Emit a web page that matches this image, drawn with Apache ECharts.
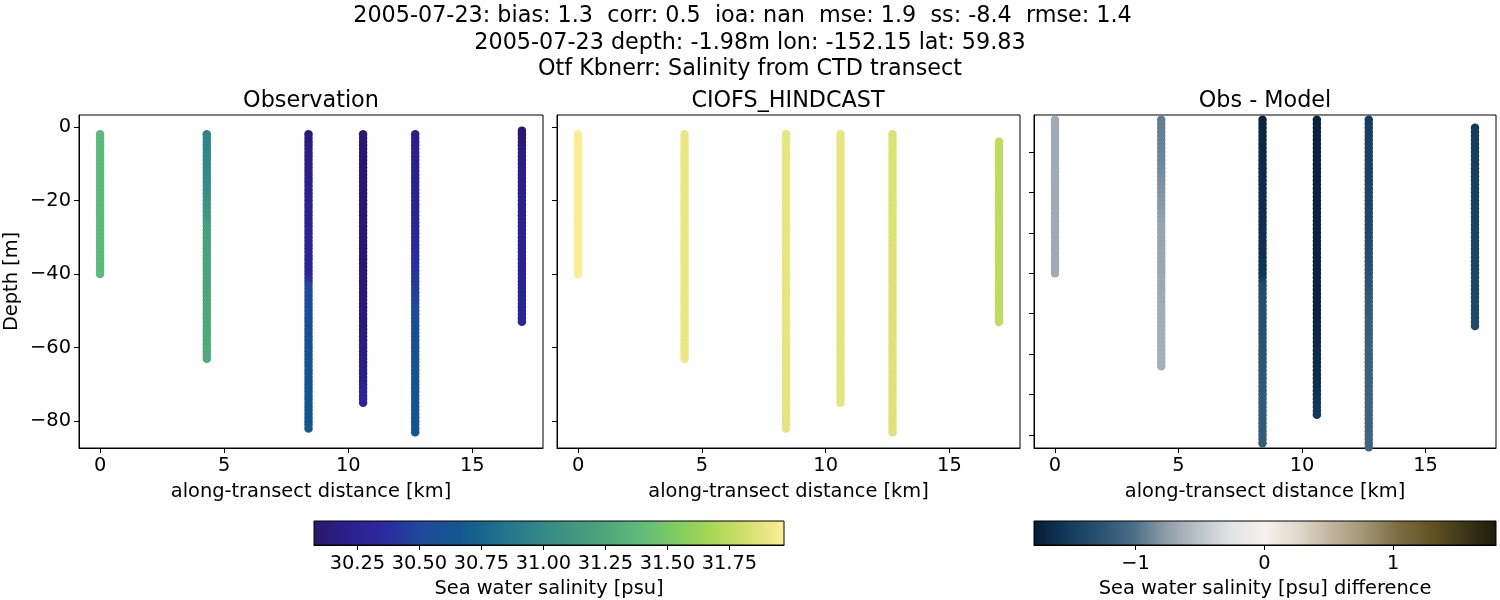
<!DOCTYPE html>
<html>
<head>
<meta charset="utf-8">
<style>html,body{margin:0;background:#fff}#main{width:1500px;height:600px}</style>
<script src="https://cdn.jsdelivr.net/npm/echarts@6/dist/echarts.min.js"></script>
</head>
<body>
<div id="main"></div>
<script>
// station positions along the transect [km]
var distances = [0, 4.3, 8.4, 10.6, 12.7, 17];

// depth bins [m]
var depths = [
  -1, -2, -3, -4, -5, -6, -7, -8, -9, -10,
  -11, -12, -13, -14, -15, -16, -17, -18, -19, -20,
  -21, -22, -23, -24, -25, -26, -27, -28, -29, -30,
  -31, -32, -33, -34, -35, -36, -37, -38, -39, -40,
  -41, -42, -43, -44, -45, -46, -47, -48, -49, -50,
  -51, -52, -53, -54, -55, -56, -57, -58, -59, -60,
  -61, -62, -63, -64, -65, -66, -67, -68, -69, -70,
  -71, -72, -73, -74, -75, -76, -77, -78, -79, -80,
  -81, -82, -83
];

// index in depths of the first sample at each station
var obsStart = [1, 1, 1, 1, 1, 0];
var modelStart = [1, 1, 1, 1, 1, 3];

// observed salinity [psu]
var obsSt0 = [
  31.38, 31.38, 31.38, 31.38, 31.38, 31.38, 31.38, 31.38, 31.38, 31.38,
  31.38, 31.38, 31.38, 31.38, 31.38, 31.38, 31.38, 31.38, 31.38, 31.38,
  31.38, 31.38, 31.38, 31.38, 31.38, 31.38, 31.38, 31.38, 31.38, 31.38,
  31.38, 31.38, 31.38, 31.38, 31.38, 31.38, 31.38, 31.38, 31.38
];
var obsSt1 = [
  30.96, 30.96, 30.96, 30.97, 30.97, 30.97, 30.98, 30.98, 30.99, 30.99,
  31.00, 31.00, 31.01, 31.02, 31.03, 31.04, 31.05, 31.06, 31.07, 31.08,
  31.09, 31.10, 31.10, 31.11, 31.15, 31.18, 31.19, 31.19, 31.20, 31.20,
  31.20, 31.20, 31.21, 31.21, 31.21, 31.22, 31.22, 31.22, 31.22, 31.23,
  31.23, 31.23, 31.23, 31.24, 31.24, 31.24, 31.24, 31.25, 31.25, 31.25,
  31.25, 31.25, 31.26, 31.26, 31.26, 31.26, 31.26, 31.26, 31.27, 31.27,
  31.27, 31.27
];
var obsSt2 = [
  30.12, 30.13, 30.14, 30.15, 30.16, 30.16, 30.17, 30.17, 30.18, 30.18,
  30.19, 30.19, 30.20, 30.20, 30.20, 30.21, 30.21, 30.21, 30.22, 30.22,
  30.22, 30.22, 30.23, 30.23, 30.23, 30.23, 30.24, 30.24, 30.24, 30.24,
  30.25, 30.25, 30.25, 30.26, 30.26, 30.27, 30.27, 30.28, 30.29, 30.30,
  30.40, 30.48, 30.50, 30.51, 30.52, 30.53, 30.53, 30.54, 30.54, 30.55,
  30.55, 30.56, 30.56, 30.57, 30.57, 30.58, 30.58, 30.59, 30.59, 30.60,
  30.60, 30.61, 30.61, 30.62, 30.62, 30.62, 30.63, 30.63, 30.63, 30.64,
  30.64, 30.64, 30.65, 30.65, 30.65, 30.65, 30.66, 30.66, 30.66, 30.66,
  30.67
];
var obsSt3 = [
  30.10, 30.10, 30.10, 30.10, 30.10, 30.10, 30.10, 30.10, 30.10, 30.10,
  30.10, 30.10, 30.10, 30.10, 30.10, 30.10, 30.10, 30.10, 30.10, 30.10,
  30.10, 30.10, 30.10, 30.10, 30.10, 30.10, 30.10, 30.10, 30.10, 30.10,
  30.10, 30.10, 30.10, 30.10, 30.10, 30.10, 30.11, 30.11, 30.11, 30.11,
  30.11, 30.11, 30.11, 30.11, 30.11, 30.12, 30.12, 30.12, 30.12, 30.12,
  30.12, 30.13, 30.13, 30.13, 30.14, 30.15, 30.16, 30.17, 30.17, 30.18,
  30.18, 30.18, 30.19, 30.19, 30.19, 30.20, 30.21, 30.22, 30.24, 30.26,
  30.28, 30.29, 30.30, 30.30
];
var obsSt4 = [
  30.21, 30.21, 30.22, 30.22, 30.22, 30.23, 30.23, 30.23, 30.24, 30.24,
  30.24, 30.25, 30.25, 30.25, 30.26, 30.26, 30.26, 30.27, 30.27, 30.27,
  30.28, 30.28, 30.28, 30.29, 30.29, 30.30, 30.30, 30.31, 30.31, 30.32,
  30.33, 30.34, 30.35, 30.36, 30.37, 30.38, 30.39, 30.40, 30.41, 30.42,
  30.43, 30.44, 30.45, 30.46, 30.47, 30.48, 30.49, 30.50, 30.51, 30.52,
  30.53, 30.54, 30.55, 30.56, 30.57, 30.58, 30.58, 30.59, 30.59, 30.60,
  30.60, 30.60, 30.61, 30.61, 30.61, 30.62, 30.62, 30.62, 30.63, 30.63,
  30.63, 30.63, 30.64, 30.64, 30.64, 30.64, 30.65, 30.65, 30.65, 30.65,
  30.66, 30.66
];
var obsSt5 = [
  30.08, 30.09, 30.10, 30.11, 30.13, 30.15, 30.16, 30.17, 30.17, 30.18,
  30.18, 30.19, 30.19, 30.19, 30.20, 30.20, 30.20, 30.21, 30.21, 30.21,
  30.22, 30.22, 30.22, 30.22, 30.23, 30.23, 30.23, 30.23, 30.24, 30.24,
  30.24, 30.24, 30.25, 30.25, 30.25, 30.25, 30.26, 30.26, 30.26, 30.26,
  30.26, 30.27, 30.27, 30.27, 30.27, 30.27, 30.28, 30.28, 30.28, 30.28,
  30.29, 30.29, 30.29
];

// modelled salinity [psu]
var modelSt0 = [
  31.96, 31.96, 31.96, 31.96, 31.96, 31.96, 31.96, 31.96, 31.96, 31.96,
  31.96, 31.96, 31.96, 31.96, 31.96, 31.96, 31.96, 31.96, 31.96, 31.96,
  31.96, 31.96, 31.96, 31.96, 31.96, 31.96, 31.96, 31.96, 31.96, 31.96,
  31.96, 31.96, 31.96, 31.96, 31.96, 31.96, 31.96, 31.96, 31.96
];
var modelSt1 = [
  31.90, 31.90, 31.90, 31.90, 31.90, 31.90, 31.90, 31.90, 31.90, 31.90,
  31.90, 31.90, 31.90, 31.90, 31.90, 31.90, 31.90, 31.90, 31.90, 31.90,
  31.90, 31.90, 31.90, 31.90, 31.90, 31.90, 31.90, 31.90, 31.90, 31.90,
  31.90, 31.90, 31.90, 31.90, 31.90, 31.90, 31.90, 31.90, 31.90, 31.90,
  31.90, 31.90, 31.90, 31.90, 31.90, 31.90, 31.90, 31.90, 31.90, 31.90,
  31.90, 31.90, 31.90, 31.90, 31.90, 31.90, 31.90, 31.90, 31.90, 31.90,
  31.90, 31.90
];
var modelSt2 = [
  31.89, 31.89, 31.89, 31.89, 31.89, 31.89, 31.89, 31.89, 31.89, 31.89,
  31.89, 31.89, 31.89, 31.89, 31.89, 31.89, 31.89, 31.89, 31.89, 31.89,
  31.89, 31.89, 31.89, 31.89, 31.89, 31.89, 31.89, 31.89, 31.89, 31.89,
  31.89, 31.89, 31.89, 31.89, 31.89, 31.89, 31.89, 31.89, 31.89, 31.89,
  31.89, 31.89, 31.89, 31.89, 31.89, 31.89, 31.89, 31.89, 31.89, 31.89,
  31.89, 31.89, 31.89, 31.89, 31.89, 31.89, 31.88, 31.88, 31.88, 31.88,
  31.88, 31.88, 31.88, 31.88, 31.88, 31.88, 31.88, 31.88, 31.88, 31.88,
  31.88, 31.88, 31.88, 31.88, 31.88, 31.88, 31.88, 31.88, 31.88, 31.88,
  31.88
];
var modelSt3 = [
  31.89, 31.89, 31.89, 31.89, 31.89, 31.89, 31.89, 31.89, 31.89, 31.89,
  31.89, 31.89, 31.89, 31.89, 31.89, 31.89, 31.89, 31.89, 31.89, 31.89,
  31.89, 31.89, 31.89, 31.89, 31.89, 31.89, 31.89, 31.89, 31.89, 31.89,
  31.89, 31.89, 31.89, 31.89, 31.89, 31.89, 31.89, 31.89, 31.89, 31.89,
  31.89, 31.89, 31.89, 31.89, 31.89, 31.89, 31.89, 31.89, 31.89, 31.89,
  31.88, 31.88, 31.88, 31.88, 31.88, 31.88, 31.88, 31.88, 31.88, 31.88,
  31.88, 31.88, 31.88, 31.88, 31.88, 31.88, 31.88, 31.88, 31.88, 31.88,
  31.88, 31.88, 31.88, 31.88
];
var modelSt4 = [
  31.84, 31.84, 31.84, 31.84, 31.84, 31.84, 31.84, 31.84, 31.84, 31.84,
  31.84, 31.84, 31.84, 31.84, 31.84, 31.84, 31.84, 31.84, 31.84, 31.84,
  31.84, 31.84, 31.84, 31.84, 31.84, 31.84, 31.84, 31.84, 31.84, 31.84,
  31.85, 31.85, 31.85, 31.85, 31.85, 31.85, 31.85, 31.85, 31.85, 31.85,
  31.85, 31.85, 31.85, 31.85, 31.85, 31.85, 31.85, 31.85, 31.85, 31.85,
  31.85, 31.85, 31.85, 31.85, 31.85, 31.85, 31.86, 31.86, 31.86, 31.86,
  31.86, 31.86, 31.86, 31.86, 31.86, 31.86, 31.86, 31.86, 31.86, 31.86,
  31.86, 31.86, 31.86, 31.86, 31.86, 31.86, 31.86, 31.86, 31.86, 31.86,
  31.86, 31.86
];
var modelSt5 = [
  31.75, 31.75, 31.75, 31.75, 31.75, 31.75, 31.75, 31.75, 31.75, 31.75,
  31.75, 31.75, 31.75, 31.75, 31.75, 31.75, 31.75, 31.75, 31.75, 31.75,
  31.75, 31.75, 31.75, 31.75, 31.75, 31.75, 31.75, 31.75, 31.75, 31.75,
  31.75, 31.75, 31.75, 31.75, 31.75, 31.75, 31.75, 31.75, 31.75, 31.75,
  31.75, 31.75, 31.75, 31.75, 31.75, 31.75, 31.75, 31.75, 31.75, 31.75
];

// obs - model [psu]
var diffSt0 = [
  -0.67, -0.67, -0.67, -0.67, -0.67, -0.67, -0.67, -0.67, -0.67, -0.67,
  -0.67, -0.67, -0.67, -0.67, -0.67, -0.67, -0.67, -0.67, -0.67, -0.67,
  -0.67, -0.67, -0.67, -0.67, -0.67, -0.67, -0.67, -0.67, -0.67, -0.67,
  -0.67, -0.67, -0.67, -0.67, -0.67, -0.67, -0.67, -0.67, -0.67
];
var diffSt1 = [
  -0.93, -0.93, -0.92, -0.92, -0.92, -0.91, -0.91, -0.90, -0.90, -0.89,
  -0.89, -0.88, -0.87, -0.86, -0.85, -0.84, -0.83, -0.82, -0.81, -0.80,
  -0.79, -0.79, -0.78, -0.77, -0.75, -0.73, -0.72, -0.72, -0.71, -0.71,
  -0.71, -0.71, -0.70, -0.70, -0.70, -0.69, -0.69, -0.69, -0.69, -0.68,
  -0.68, -0.68, -0.68, -0.67, -0.67, -0.67, -0.67, -0.66, -0.66, -0.66,
  -0.66, -0.66, -0.65, -0.65, -0.65, -0.65, -0.65, -0.65, -0.64, -0.64,
  -0.64, -0.64
];
var diffSt2 = [
  -1.74, -1.73, -1.72, -1.71, -1.70, -1.70, -1.69, -1.69, -1.68, -1.68,
  -1.67, -1.67, -1.66, -1.66, -1.66, -1.65, -1.65, -1.65, -1.64, -1.64,
  -1.64, -1.64, -1.63, -1.63, -1.63, -1.63, -1.62, -1.62, -1.62, -1.62,
  -1.61, -1.61, -1.61, -1.60, -1.60, -1.59, -1.59, -1.58, -1.57, -1.56,
  -1.46, -1.38, -1.36, -1.35, -1.34, -1.33, -1.33, -1.32, -1.32, -1.31,
  -1.31, -1.30, -1.30, -1.29, -1.29, -1.28, -1.27, -1.26, -1.26, -1.25,
  -1.25, -1.24, -1.24, -1.23, -1.23, -1.23, -1.22, -1.22, -1.22, -1.21,
  -1.21, -1.21, -1.20, -1.20, -1.20, -1.20, -1.19, -1.19, -1.19, -1.19,
  -1.18
];
var diffSt3 = [
  -1.74, -1.74, -1.74, -1.74, -1.74, -1.74, -1.74, -1.74, -1.74, -1.74,
  -1.74, -1.74, -1.74, -1.74, -1.74, -1.74, -1.74, -1.74, -1.74, -1.74,
  -1.74, -1.74, -1.74, -1.74, -1.74, -1.74, -1.74, -1.74, -1.74, -1.74,
  -1.74, -1.74, -1.74, -1.74, -1.74, -1.74, -1.73, -1.73, -1.73, -1.73,
  -1.73, -1.73, -1.73, -1.73, -1.73, -1.72, -1.72, -1.72, -1.72, -1.72,
  -1.71, -1.70, -1.70, -1.70, -1.69, -1.68, -1.67, -1.66, -1.66, -1.65,
  -1.65, -1.65, -1.64, -1.64, -1.64, -1.63, -1.62, -1.61, -1.59, -1.57,
  -1.55, -1.54, -1.53, -1.53
];
var diffSt4 = [
  -1.48, -1.48, -1.47, -1.47, -1.47, -1.46, -1.46, -1.46, -1.45, -1.45,
  -1.45, -1.44, -1.44, -1.44, -1.43, -1.43, -1.43, -1.42, -1.42, -1.42,
  -1.41, -1.41, -1.41, -1.40, -1.40, -1.39, -1.39, -1.38, -1.38, -1.37,
  -1.37, -1.36, -1.35, -1.34, -1.33, -1.32, -1.31, -1.30, -1.29, -1.28,
  -1.27, -1.26, -1.25, -1.24, -1.23, -1.22, -1.21, -1.20, -1.19, -1.18,
  -1.17, -1.17, -1.16, -1.16, -1.15, -1.15, -1.15, -1.14, -1.14, -1.14,
  -1.14, -1.14, -1.13, -1.13, -1.13, -1.13, -1.13, -1.12, -1.12, -1.12,
  -1.12, -1.12, -1.11, -1.11, -1.11, -1.11, -1.11, -1.11, -1.10, -1.10,
  -1.10, -1.10
];
var diffSt5 = [
  -1.53, -1.51, -1.50, -1.49, -1.49, -1.48, -1.48, -1.47, -1.47, -1.47,
  -1.46, -1.46, -1.46, -1.45, -1.45, -1.45, -1.44, -1.44, -1.44, -1.44,
  -1.43, -1.43, -1.43, -1.43, -1.42, -1.42, -1.42, -1.42, -1.41, -1.41,
  -1.41, -1.41, -1.40, -1.40, -1.40, -1.40, -1.40, -1.39, -1.39, -1.39,
  -1.39, -1.39, -1.38, -1.38, -1.38, -1.38, -1.37, -1.37, -1.37, -1.37
];

var xTicks = [0, 5, 10, 15];
var depthTicks = [0, -20, -40, -60, -80];
var diffDepthTicks = [-10, -20, -30, -40, -50, -60, -70, -80];
var salinityTicks = [30.25, 30.50, 30.75, 31.00, 31.25, 31.50, 31.75];
var diffTicks = [-1, 0, 1];

var salinityColors = ['#2a186c', '#2c1f8e', '#2a2ba0', '#1f4a9b', '#13568f', '#1d6f8d', '#2f8389', '#3f9482', '#4da57c', '#5fbb7a', '#7fcc62', '#a9d755', '#d5e070', '#fdee99'];
var diffColors = ['#071c36', '#12395a', '#2a5270', '#4a6c86', '#8d9da9', '#bcc3ca', '#e3e4e6', '#f5f1ee', '#e0d8cb', '#c0b59d', '#a19673', '#7d6d45', '#655322', '#3d371a', '#1c1c08'];

var font = 'DejaVu Sans';
var tickSize = 19.4;
var titleSize = 22.3;

function points(starts, columns) {
  var out = [];
  columns.forEach(function (col, i) {
    col.forEach(function (v, k) {
      out.push([distances[i], depths[starts[i] + k], v]);
    });
  });
  return out;
}

function minusSign(v) {
  return String(v).replace('-', '\u2212');
}

function panelX(gridIndex) {
  return {
    type: 'value', gridIndex: gridIndex, min: -0.85, max: 17.85,
    name: 'along-transect distance [km]', nameLocation: 'middle', nameGap: 34,
    nameTextStyle: {fontFamily: font, fontSize: tickSize, color: '#000'},
    splitLine: {show: false},
    axisLine: {onZero: false, lineStyle: {color: '#000', width: 1}},
    axisTick: {length: 5, customValues: xTicks, lineStyle: {color: '#000'}},
    axisLabel: {customValues: xTicks, margin: 8, fontFamily: font, fontSize: tickSize, color: '#000'}
  };
}

function panelY(gridIndex, min, max, ticks, showLabels) {
  return {
    type: 'value', gridIndex: gridIndex, min: min, max: max,
    splitLine: {show: false},
    axisLine: {onZero: false, lineStyle: {color: '#000', width: 1}},
    axisTick: {length: 5, customValues: ticks, lineStyle: {color: '#000'}},
    axisLabel: {show: showLabels, customValues: ticks, margin: 8, fontFamily: font, fontSize: tickSize, color: '#000', formatter: minusSign}
  };
}

function gradient(colors) {
  return new echarts.graphic.LinearGradient(0, 0, 1, 0, colors.map(function (c, i) {
    return {offset: i / (colors.length - 1), color: c};
  }));
}

function barX(gridIndex, min, max, ticks, name, fmt) {
  return {
    type: 'value', gridIndex: gridIndex, min: min, max: max,
    name: name, nameLocation: 'middle', nameGap: 34,
    nameTextStyle: {fontFamily: font, fontSize: tickSize, color: '#000'},
    splitLine: {show: false},
    axisLine: {onZero: false, lineStyle: {color: '#000', width: 1}},
    axisTick: {length: 5, customValues: ticks, lineStyle: {color: '#000'}},
    axisLabel: {customValues: ticks, margin: 9, fontFamily: font, fontSize: tickSize, color: '#000', formatter: fmt}
  };
}

function barY(gridIndex) {
  return {type: 'value', gridIndex: gridIndex, min: 0, max: 1, show: false};
}

function scatter(gridIndex, data) {
  return {
    type: 'scatter', xAxisIndex: gridIndex, yAxisIndex: gridIndex,
    symbolSize: 8.5, clip: true, data: data, animation: false,
    itemStyle: {opacity: 1}
  };
}

function heading(text, x, y, size) {
  return {text: text, left: x, top: y, padding: 0, textAlign: 'center', textStyle: {fontFamily: font, fontSize: size, fontWeight: 'normal', color: '#000'}};
}

function panelGrid(left, top, width, height, fill) {
  return {
    left: left, top: top, width: width, height: height, show: true,
    outerBoundsMode: 'none', borderColor: '#000', borderWidth: 1,
    backgroundColor: fill || 'transparent'
  };
}

var chart = echarts.init(document.getElementById('main'));
chart.setOption({
  backgroundColor: '#fff',
  animation: false,
  title: [
    heading('2005-07-23: bias: 1.3  corr: 0.5  ioa: nan  mse: 1.9  ss: -8.4  rmse: 1.4', 742.5, 5, titleSize),
    heading('2005-07-23 depth: -1.98m lon: -152.15 lat: 59.83', 750, 32, titleSize),
    heading('Otf Kbnerr: Salinity from CTD transect', 750, 58, titleSize),
    heading('Observation', 311, 90, titleSize),
    heading('CIOFS_HINDCAST', 788, 90, titleSize),
    heading('Obs - Model', 1265, 90, titleSize)
  ],
  graphic: [{
    type: 'text', rotation: Math.PI / 2, x: 12, y: 281.5,
    style: {text: 'Depth [m]', fontFamily: font, fontSize: tickSize, fill: '#000', textAlign: 'center', textVerticalAlign: 'middle'}
  }],
  grid: [
    panelGrid(79, 115, 464, 333),
    panelGrid(557, 115, 463, 333),
    panelGrid(1034, 115, 462, 333),
    panelGrid(314, 521, 470, 24, gradient(salinityColors)),
    panelGrid(1034, 521, 462, 24, gradient(diffColors))
  ],
  xAxis: [
    panelX(0), panelX(1), panelX(2),
    barX(3, 30.075, 31.97, salinityTicks, 'Sea water salinity [psu]', function (v) { return v.toFixed(2); }),
    barX(4, -1.79, 1.8, diffTicks, 'Sea water salinity [psu] difference', minusSign)
  ],
  yAxis: [
    panelY(0, -87.3, 3.25, depthTicks, true),
    panelY(1, -87.3, 3.25, depthTicks, false),
    panelY(2, -83.2, -0.85, diffDepthTicks, false),
    barY(3), barY(4)
  ],
  visualMap: [
    {show: false, type: 'continuous', seriesIndex: [0, 1], dimension: 2, min: 30.075, max: 31.97, inRange: {color: salinityColors}},
    {show: false, type: 'continuous', seriesIndex: [2], dimension: 2, min: -1.79, max: 1.8, inRange: {color: diffColors}}
  ],
  series: [
    scatter(0, points(obsStart, [obsSt0, obsSt1, obsSt2, obsSt3, obsSt4, obsSt5])),
    scatter(1, points(modelStart, [modelSt0, modelSt1, modelSt2, modelSt3, modelSt4, modelSt5])),
    scatter(2, points(modelStart, [diffSt0, diffSt1, diffSt2, diffSt3, diffSt4, diffSt5]))
  ]
});
</script>
</body>
</html>
